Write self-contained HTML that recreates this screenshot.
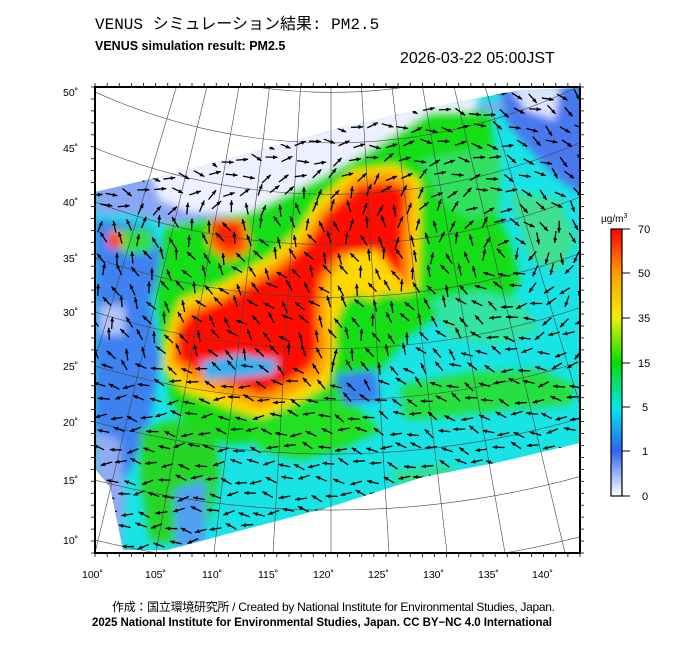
<!DOCTYPE html>
<html><head><meta charset="utf-8"><style>
html,body{margin:0;padding:0;background:#fff;width:700px;height:649px;overflow:hidden}
svg{display:block}
</style></head><body>
<svg id="s" width="700" height="649" xmlns="http://www.w3.org/2000/svg" font-family="Liberation Sans, sans-serif">
<defs>
<clipPath id="dc"><polygon points="95,192 180,172 260,150 340,128 427,108 520,90 580,88 580,443 500,462 423,477 330,507 250,528 167,550 123,550 110,487 96,470"/></clipPath>
<clipPath id="fc"><rect x="95" y="87" width="485" height="466"/></clipPath>
<filter id="bl" x="-20%" y="-20%" width="140%" height="140%"><feGaussianBlur stdDeviation="4"/></filter>
<linearGradient id="cb" x1="0" y1="1" x2="0" y2="0">
<stop offset="0" stop-color="#ffffff"/><stop offset="0.17" stop-color="#2c64f0"/><stop offset="0.33" stop-color="#00e8f0"/><stop offset="0.5" stop-color="#00e000"/><stop offset="0.67" stop-color="#f0f000"/><stop offset="0.83" stop-color="#ffa000"/><stop offset="1" stop-color="#ff0000"/>
</linearGradient>
</defs>
<text x="95" y="29" font-family="Liberation Mono, Noto Sans CJK JP, monospace" font-size="16">VENUS シミュレーション結果: PM2.5</text>
<text x="95" y="50" font-size="12.5" font-weight="bold">VENUS simulation result: PM2.5</text>
<text x="400" y="63" font-size="16">2026-03-22 05:00JST</text>

<g clip-path="url(#dc)">
<rect x="95" y="87" width="485" height="466" fill="#18e4e6"/>
<g filter="url(#bl)">
<polygon points="95,185 600,80 590,120 500,110 430,140 400,170 340,190 300,215 240,232 180,230 140,215 95,215" fill="#8aa6f4"/>
<polygon points="150,170 430,100 480,95 470,120 420,140 380,160 330,175 290,200 240,215 190,212 160,200" fill="#eef0ff"/>
<polygon points="500,85 590,85 590,200 560,180 530,150 505,120" fill="#4a78ee"/>
<polygon points="510,85 560,85 555,120 525,110" fill="#dde4ff"/>
<polygon points="95,220 150,225 165,260 150,300 160,360 150,420 130,470 110,500 95,500" fill="#3c82f0"/>
<polygon points="100,305 125,305 125,335 100,335" fill="#b0c4f8"/>
<polygon points="95,430 120,440 125,500 120,550 95,550" fill="#90aaf4"/>
<polygon points="110,230 150,228 155,250 125,255" fill="#30e040"/>
<!-- big green -->
<polygon points="165,225 250,212 320,178 370,150 430,112 490,110 495,160 490,200 510,240 520,280 505,310 470,320 440,315 410,335 380,370 345,400 310,425 270,440 230,445 190,430 170,400 160,340 155,290" fill="#12de16"/>
<polygon points="420,160 470,150 500,150 500,210 470,220 440,200" fill="#30e060"/>
<polygon points="510,190 560,200 575,240 560,270 530,260" fill="#40e090"/>
<polygon points="400,385 470,372 540,370 575,385 570,405 500,410 440,418 405,420" fill="#28e040"/>
<polygon points="430,300 480,290 520,300 540,330 500,345 450,340" fill="#30e4a0"/>
<polygon points="230,390 300,380 350,400 380,430 340,450 300,460 260,450" fill="#24e020"/>
<polygon points="140,430 170,420 215,425 220,470 210,520 180,545 150,540 140,480" fill="#28d628"/>
<polygon points="390,470 450,465 460,485 400,492" fill="#30e090"/>
<polygon points="335,375 375,370 380,400 345,405" fill="#3a80f0"/>
<polygon points="175,490 205,480 205,548 175,548" fill="#50a0f4"/>
<polygon points="168,330 180,300 222,284 272,255 300,228 316,202 352,170 395,165 420,180 420,232 418,290 398,295 372,288 345,300 335,325 335,355 328,385 298,402 262,418 220,405 182,390 162,368" fill="#ffd800"/>
<polygon points="174,328 185,307 224,292 276,262 305,236 320,210 356,176 392,172 414,184 412,232 412,284 396,288 375,260 342,262 328,283 326,315 329,350 322,376 292,393 262,408 222,394 188,380 170,362" fill="#ff9a00"/>
<polygon points="345,250 380,235 400,255 400,285 372,300 350,290" fill="#ffd800"/>
<polygon points="212,218 245,220 250,250 228,262 208,245" fill="#ff7000"/>
<polygon points="213,222 240,224 242,245 228,252 214,240" fill="#ff2000"/>
<polygon points="179,330 189,316 225,300 279,270 309,243 325,215 359,186 390,183 406,190 403,232 403,274 397,276 377,250 338,254 320,278 316,312 318,346 312,366 288,382 262,394 225,382 193,369 176,358" fill="#ff0a00"/>
<polygon points="200,362 240,354 278,360 274,374 240,378 206,380" fill="#30b0f0"/>
<polygon points="108,232 122,232 122,248 108,248" fill="#ff4000"/>
</g>
</g>
<g id="grat" clip-path="url(#fc)" fill="none" stroke="#444" stroke-width="0.6"></g>
<g id="arr" clip-path="url(#dc)" stroke="#000" fill="#000"></g>
<rect x="95" y="87" width="485" height="466" fill="none" stroke="#000" stroke-width="2"/>
<g id="tk" stroke="#000" stroke-width="0.8"></g>
<g font-size="10.5" fill="#000">
<text x="63" y="96">50˚</text><text x="63" y="152">45˚</text><text x="63" y="206">40˚</text><text x="63" y="262">35˚</text><text x="63" y="316">30˚</text><text x="63" y="370">25˚</text><text x="63" y="426">20˚</text><text x="63" y="484">15˚</text><text x="63" y="544">10˚</text>
<text x="82" y="578">100˚</text><text x="145" y="578">105˚</text><text x="202" y="578">110˚</text><text x="258" y="578">115˚</text><text x="313" y="578">120˚</text><text x="368" y="578">125˚</text><text x="423" y="578">130˚</text><text x="478" y="578">135˚</text><text x="532" y="578">140˚</text>
</g>
<rect x="611" y="229" width="11" height="267" fill="url(#cb)" stroke="#000" stroke-width="1.2"/>
<g stroke="#000" stroke-width="1"><line x1="622" y1="229" x2="630" y2="229"/><line x1="622" y1="273" x2="630" y2="273"/><line x1="622" y1="318" x2="630" y2="318"/><line x1="622" y1="363" x2="630" y2="363"/><line x1="622" y1="407" x2="630" y2="407"/><line x1="622" y1="451" x2="630" y2="451"/><line x1="622" y1="496" x2="630" y2="496"/></g>
<g font-size="11"><text x="638" y="233">70</text><text x="638" y="277">50</text><text x="638" y="322">35</text><text x="638" y="367">15</text><text x="642" y="411">5</text><text x="642" y="455">1</text><text x="642" y="500">0</text>
<text x="601" y="222" font-size="10">µg/m<tspan font-size="7" dy="-4">3</tspan></text></g>
<text x="112" y="611" font-family="Liberation Sans, Noto Sans CJK JP, sans-serif" font-size="12" textLength="443">作成：国立環境研究所 / Created by National Institute for Environmental Studies, Japan.</text>
<text x="92" y="626" font-size="11.5" font-weight="bold" textLength="460">2025 National Institute for Environmental Studies, Japan. CC BY−NC 4.0 International</text>
</svg>
<script>
var NS="http://www.w3.org/2000/svg";
function el(p,t,a){var e=document.createElementNS(NS,t);for(var k in a)e.setAttribute(k,a[k]);p.appendChild(e);return e;}
var ax=331,ay=-430;
var g=document.getElementById('grat');
[92,148,202,258,312,366,422,480,540,36].forEach(function(y){var r=Math.hypot(95-ax,y-ay);el(g,'circle',{cx:ax,cy:ay,r:r});});
[37,95,156,214,273,331,389,447,505,565,624].forEach(function(x){el(g,'line',{x1:x,y1:553,x2:ax,y2:ay});});
var a=document.getElementById('arr');
function vel(x,y){
 var u=0,v=0;
 var cx=505,cy=250,dx=x-cx,dy=y-cy,d=Math.hypot(dx,dy)+30;
 var k=Math.exp(-d/200);
 u+= -dy/d*1.4*k*2; v+= dx/d*1.4*k*2;
 var w=Math.max(0,Math.min(1,(y-360)/60)); u-=w*1.5; v-=w*0.25*(x>420?1:-0.3);
 var n=Math.max(0,Math.min(1,(230-y)/80)); u+=n*0.5; v+=n*0.6;
 var c2x=330,c2y=330,ex=x-c2x,ey=y-c2y,e=Math.hypot(ex,ey)+40;
 var f=Math.exp(-e/120); u+=ey/e*f*1.5; v+=-ex/e*f*1.5;
 return [u,v];
}
for(var y=96;y<553;y+=16){for(var x=98+((y/16|0)%2)*8;x<580;x+=16){
 var jx=x+Math.sin(x*7.1+y*3.3)*3,jy=y+Math.cos(x*2.3+y*5.7)*3;
 var r=vel(jx,jy),ang=Math.atan2(r[1],r[0])+Math.sin(x*1.3+y*0.7)*0.45;
 var L=12;var c=Math.cos(ang),s=Math.sin(ang);
 var x0=jx-c*L/2,y0=jy-s*L/2,x1=jx+c*L/2,y1=jy+s*L/2;
 el(a,'line',{x1:x0,y1:y0,x2:x1,y2:y1,'stroke-width':1.3});
 el(a,'polygon',{points:x1+','+y1+' '+(x1-c*4.5-s*2)+','+(y1-s*4.5+c*2)+' '+(x1-c*4.5+s*2)+','+(y1-s*4.5-c*2),stroke:'none'});
}}
var t=document.getElementById('tk');
for(var i=0;i<41;i++){var x=95+i*485/40;el(t,'line',{x1:x,y1:553,x2:x,y2:557});el(t,'line',{x1:x,y1:87,x2:x,y2:83});}
for(var j=0;j<40;j++){var y=87+j*466/39;el(t,'line',{x1:95,y1:y,x2:91,y2:y});el(t,'line',{x1:580,y1:y,x2:584,y2:y});}
</script>
</body></html>
